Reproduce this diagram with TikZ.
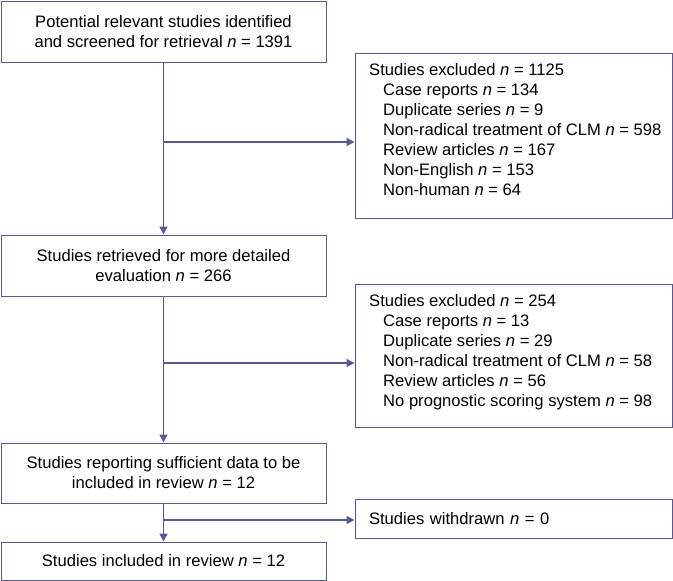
\documentclass[tikz,border=0pt]{standalone}
\usepackage{fontspec}
\setmainfont{Liberation Sans}
\usetikzlibrary{arrows.meta}
\definecolor{flowcol}{RGB}{88,88,148}
\tikzset{
  box/.style={draw=flowcol, line width=1pt, inner sep=0pt, minimum width=325pt, align=center},
  exbox/.style={draw=flowcol, line width=1pt, inner sep=0pt, minimum width=317pt},
  txt/.style={inner sep=0pt, align=left, anchor=north west},
  arr/.style={draw=flowcol, line width=1.4pt, -{Triangle[length=8pt,width=8pt]}},
  lin/.style={draw=flowcol, line width=1.4pt}
}
\begin{document}
\begin{tikzpicture}[x=1pt,y=-1pt, font=\fontsize{16.6}{20}\selectfont]
\useasboundingbox (0,0) rectangle (673,581);
% main column
\node[box, minimum height=61pt] (b1) at (163.5,31.5) {Potential relevant studies identified\\and screened for retrieval \textit{n} = 1391};
\node[box, minimum height=61pt] (b2) at (163.5,265.5) {Studies retrieved for more detailed\\evaluation \textit{n} = 266};
\node[box, minimum height=60pt] (b3) at (163.5,473) {Studies reporting sufficient data to be\\included in review \textit{n} = 12};
\node[box, minimum height=38pt] (b4) at (163.5,561) {Studies included in review \textit{n} = 12};
% exclusion boxes
\node[exbox, minimum height=165pt] (e1) at (513.5,135.5) {};
\node[txt] (t1) at (369,61) {\strut Studies excluded \textit{n} = 1125\\
\hspace*{14pt}Case reports \textit{n} = 134\\
\hspace*{14pt}Duplicate series \textit{n} = 9\\
\hspace*{14pt}Non-radical treatment of CLM \textit{n} = 598\\
\hspace*{14pt}Review articles \textit{n} = 167\\
\hspace*{14pt}Non-English \textit{n} = 153\\
\hspace*{14pt}Non-human \textit{n} = 64};
\node[exbox, minimum height=143pt] (e2) at (513.5,355.5) {};
\node[txt] (t2) at (369,292) {\strut Studies excluded \textit{n} = 254\\
\hspace*{14pt}Case reports \textit{n} = 13\\
\hspace*{14pt}Duplicate series \textit{n} = 29\\
\hspace*{14pt}Non-radical treatment of CLM \textit{n} = 58\\
\hspace*{14pt}Review articles \textit{n} = 56\\
\hspace*{14pt}No prognostic scoring system \textit{n} = 98};
\node[exbox, minimum height=39pt, text width=289pt, inner xsep=14pt, align=left] (e3) at (513.5,518.5) {Studies withdrawn \textit{n} = 0};
% connectors
\draw[arr] (b1.south) -- (b2.north);
\draw[arr] (b2.south) -- (b3.north);
\draw[arr] (b3.south) -- (b4.north);
\coordinate (j1) at (163.5,142);
\coordinate (j2) at (163.5,363);
\coordinate (j3) at (163.5,520);
\draw[arr] (j1) -- (j1 -| e1.west);
\draw[arr] (j2) -- (j2 -| e2.west);
\draw[arr] (j3) -- (j3 -| e3.west);
\end{tikzpicture}
\end{document}
